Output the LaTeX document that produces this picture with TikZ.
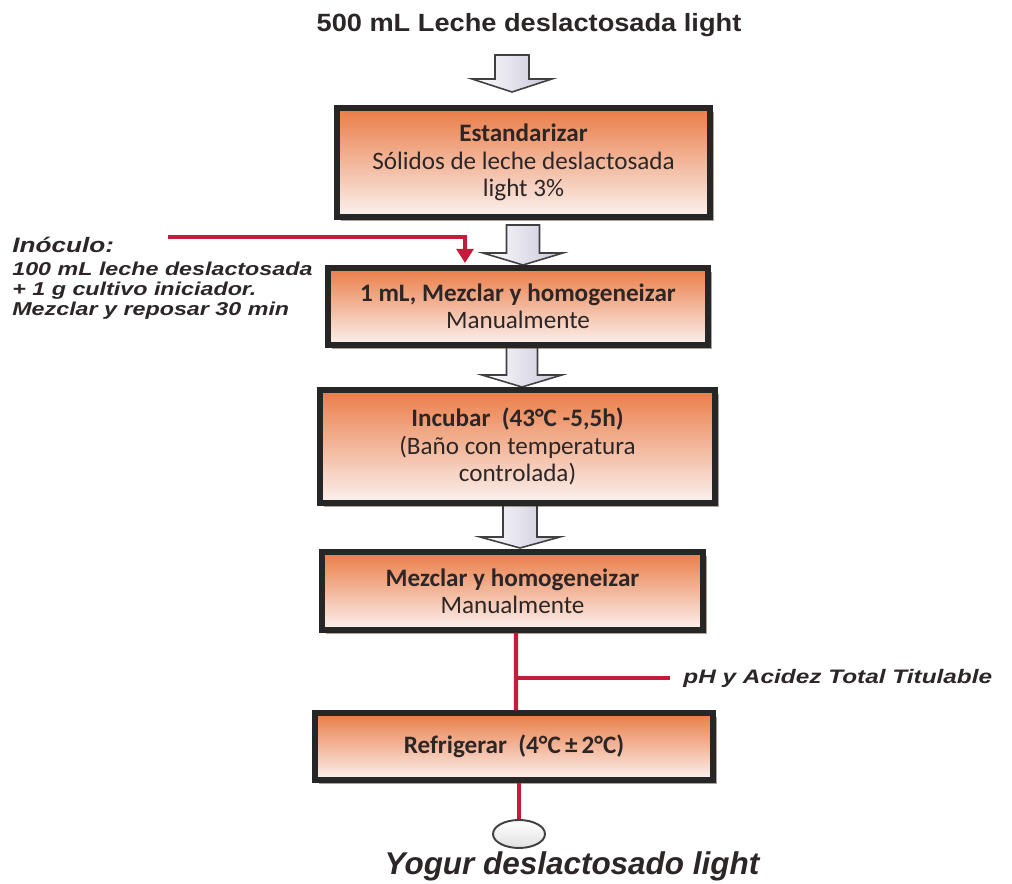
\documentclass[tikz,border=0pt]{standalone}
\usepackage{fontspec}
\setmainfont{Carlito}
\newfontfamily\arialfont{Liberation Sans}
\newfontfamily\ttlfont[FakeStretch=1.09]{Liberation Sans}
\newfontfamily\lblfont[FakeStretch=1.25]{Liberation Sans}
\usetikzlibrary{shapes.geometric,shadows,arrows.meta,calc}
\definecolor{boxtop}{RGB}{234,124,70}
\definecolor{boxmid}{RGB}{246,198,176}
\definecolor{boxbot}{RGB}{251,242,240}
\definecolor{boxline}{RGB}{38,38,38}
\definecolor{redc}{RGB}{196,28,58}
\definecolor{txt}{RGB}{45,38,38}
\definecolor{arrR}{RGB}{200,196,216}
\tikzset{
  procbox/.style={draw=boxline, line width=3pt, top color=boxtop, middle color=boxmid, bottom color=boxbot,
    drop shadow={shadow xshift=2.2pt, shadow yshift=-2.2pt, fill=black!60!brown, opacity=0.45},
    align=center, inner sep=0pt, text=txt, font=\fontsize{14.3}{15.6}\selectfont},
  redline/.style={draw=redc, line width=2.3pt},
  arrowfill/.style={draw=black!75, line width=0.9pt, left color=white, right color=arrR, line join=miter},
  lbl/.style={text=txt, inner sep=0pt}
}
\newcommand{\blockarr}[6]{\path[arrowfill] (#1-#5,#2) -- (#1+#5,#2) -- (#1+#5,#3) -- (#1+#6,#3) -- (#1,#4) -- (#1-#6,#3) -- (#1-#5,#3) -- cycle;}
\begin{document}
\begin{tikzpicture}[x=0.02cm, y=-0.02cm]
\useasboundingbox (0,0) rectangle (1012,884);
% block arrows
\blockarr{512}{55}{79}{92}{17}{40}
\blockarr{523}{225}{253}{265}{16.5}{40}
\blockarr{522}{343}{375}{387}{15.5}{40}
\blockarr{520}{503}{537}{548}{17}{40}
% title
\node[lbl, font=\ttlfont\bfseries\fontsize{14.2}{16}\selectfont] (title) at (529,25) {500 mL Leche deslactosada light};
% boxes
\node[procbox, minimum width=7.46cm, minimum height=2.18cm] (b1) at (523.5,162.5)
  {\textbf{Estandarizar}\\Sólidos de leche deslactosada\\light 3\%};
\node[procbox, minimum width=7.6cm, minimum height=1.54cm] (b2) at (518,306.5)
  {\textbf{1 mL, Mezclar y homogeneizar}\\Manualmente};
\node[procbox, minimum width=7.9cm, minimum height=2.26cm] (b3) at (517.5,446.5)
  {\textbf{Incubar\ \ (43°C -5,5h)}\\(Baño con temperatura\\controlada)};
\node[procbox, minimum width=7.62cm, minimum height=1.56cm] (b4) at (512.5,591)
  {\textbf{Mezclar y homogeneizar}\\Manualmente};
\node[procbox, minimum width=7.96cm, minimum height=1.34cm] (b5) at (514,746.5)
  {\textbf{Refrigerar\ \ (4°C\,±\,2°C)}};
% inoculum text
\node[lbl, anchor=west, font=\lblfont\bfseries\itshape\fontsize{11.9}{14}\selectfont] (inoc) at (12,245) {Inóculo:};
\node[lbl, anchor=north west, align=left, font=\lblfont\bfseries\itshape\fontsize{10.6}{11.3}\selectfont] (inoctxt) at (12,262)
  {100 mL leche deslactosada\\+ 1 g cultivo iniciador.\\Mezclar y reposar 30 min};
\coordinate (inA) at (168,237);
\coordinate (inB) at (465,263);
\draw[redline, -{Triangle[width=9.5pt,length=8pt]}] (inA) -| (inB);
% pH branch
\draw[redline] ($(b4.south)+(3.5,0)$) -- ($(b5.north)+(2,0)$);
\coordinate (br) at (516,678);
\node[lbl, anchor=west, inner xsep=7.4pt, font=\lblfont\bfseries\itshape\fontsize{11.1}{13}\selectfont] (ph) at (670,678) {pH y Acidez Total Titulable};
\draw[redline] (br) -- (ph.west);
% end
\node[ellipse, draw=black!75, line width=1.1pt, top color=white, bottom color=black!12, minimum width=1.04cm, minimum height=0.56cm, inner sep=0pt] (end) at (519,834) {};
\draw[redline] (b5.south -| end.north) -- (end.north);
\node[lbl, font=\arialfont\bfseries\itshape\fontsize{17.9}{20}\selectfont] (yog) at (572,866) {Yogur deslactosado light};
\end{tikzpicture}
\end{document}
